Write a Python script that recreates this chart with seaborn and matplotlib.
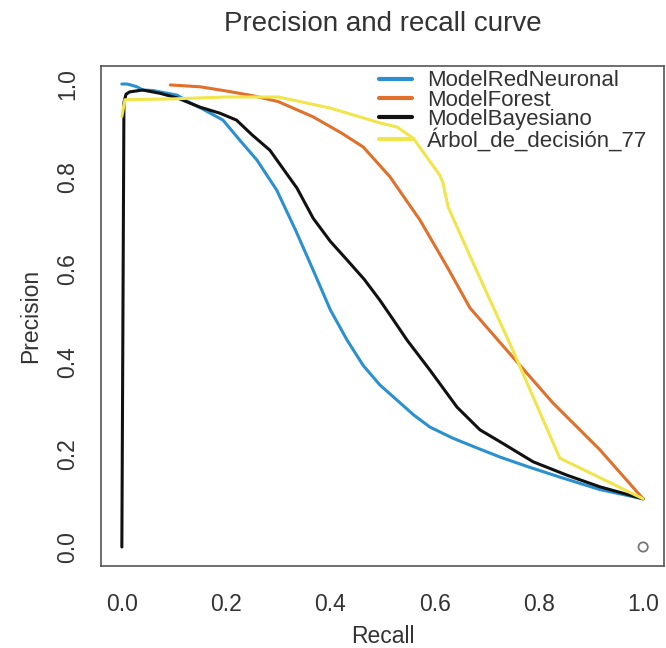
import matplotlib
matplotlib.use("Agg")
import matplotlib.pyplot as plt
import seaborn as sns
import pandas as pd
from matplotlib.lines import Line2D

# ---- data ----
models = ["ModelRedNeuronal", "ModelForest", "ModelBayesiano", "Árbol_de_decisión_77"]

recall_red = [0.0, 0.01, 0.02, 0.029, 0.04, 0.06, 0.073, 0.106, 0.13, 0.155, 0.194, 0.226, 0.259,
              0.297, 0.333, 0.367, 0.40, 0.432, 0.463, 0.495, 0.528, 0.56, 0.591, 0.635, 0.681,
              0.726, 0.78, 0.84, 0.917, 1.0]
prec_red = [1.0, 1.0, 0.997, 0.994, 0.987, 0.986, 0.983, 0.976, 0.96, 0.946, 0.922, 0.879, 0.836,
            0.771, 0.685, 0.598, 0.512, 0.447, 0.392, 0.35, 0.317, 0.285, 0.259, 0.235, 0.214,
            0.194, 0.173, 0.151, 0.124, 0.104]

recall_forest = [0.093, 0.15, 0.2, 0.25, 0.3, 0.367, 0.42, 0.463, 0.514, 0.572, 0.624, 0.668,
                 0.75, 0.827, 0.917, 1.0]
prec_forest = [0.998, 0.994, 0.985, 0.975, 0.962, 0.929, 0.895, 0.864, 0.80, 0.706, 0.605, 0.516,
               0.41, 0.311, 0.21, 0.104]

recall_bayes = [0.0, 0.004, 0.008, 0.015, 0.04, 0.073, 0.106, 0.15, 0.188, 0.22, 0.25, 0.284, 0.303,
                0.336, 0.367, 0.40, 0.432, 0.465, 0.495, 0.52, 0.547, 0.591, 0.643, 0.687, 0.726,
                0.789, 0.854, 0.917, 1.0]
prec_bayes = [0.0, 0.96, 0.978, 0.983, 0.987, 0.98, 0.97, 0.95, 0.937, 0.922, 0.89, 0.857, 0.827,
              0.775, 0.71, 0.66, 0.62, 0.578, 0.533, 0.492, 0.447, 0.382, 0.302, 0.253, 0.227,
              0.184, 0.155, 0.13, 0.104]

recall_tree = [0.0, 0.006, 0.1, 0.2, 0.3, 0.4, 0.495, 0.528, 0.559, 0.585, 0.61, 0.616, 0.626,
               0.674, 0.75, 0.84, 1.0]
prec_tree = [0.93, 0.966, 0.968, 0.972, 0.972, 0.948, 0.916, 0.907, 0.883, 0.842, 0.803, 0.786,
             0.734, 0.613, 0.425, 0.192, 0.104]

extra_point_x = [1.0]
extra_point_y = [0.0]

x_ticks = [0.0, 0.2, 0.4, 0.6, 0.8, 1.0]
y_ticks = [0.0, 0.2, 0.4, 0.6, 0.8, 1.0]
tick_labels = ["0.0", "0.2", "0.4", "0.6", "0.8", "1.0"]

colors = ["#2b90d0", "#e0712c", "#111111", "#f1e54c"]

# ---- build long table ----
frames = []
for name, rx, py in zip(models,
                        [recall_red, recall_forest, recall_bayes, recall_tree],
                        [prec_red, prec_forest, prec_bayes, prec_tree]):
    frames.append(pd.DataFrame({"Recall": rx, "Precision": py, "model": name}))
df = pd.concat(frames, ignore_index=True)

sns.set_style("white")
plt.rcParams["font.family"] = ["Liberation Sans", "DejaVu Sans"]
text_col = "#333333"

fig = plt.figure(figsize=(6.66, 6.48), dpi=100)
ax = fig.add_axes([101 / 666, 1 - 565.5 / 648, 563 / 666, 500 / 648])

sns.lineplot(data=df, x="Recall", y="Precision", hue="model", hue_order=models,
             palette=colors, sort=False, estimator=None, units="model",
             linewidth=2.2, legend=False, ax=ax)

sns.scatterplot(x=extra_point_x, y=extra_point_y, ax=ax, s=45, marker="o",
                facecolor="none", edgecolor="#777777", linewidth=1.3)

ax.set_xlim(-0.04, 1.04)
ax.set_ylim(-0.04, 1.04)
ax.set_xticks(x_ticks)
ax.set_xticklabels(tick_labels)
ax.set_yticks(y_ticks)
ax.set_yticklabels(tick_labels, rotation=90, va="center")

for s in ax.spines.values():
    s.set_color("#555555")
    s.set_linewidth(1.2)

ax.tick_params(axis="both", direction="out", length=7, width=1.1, color="#555555",
               labelsize=16.5, labelcolor=text_col)
ax.tick_params(axis="x", pad=13)
ax.tick_params(axis="y", pad=9)

ax.set_xlabel("Recall", fontsize=16.5, color=text_col, labelpad=6)
ax.set_ylabel("Precision", fontsize=16.5, color=text_col, labelpad=10)
ax.set_title("Precision and recall curve", fontsize=20, color=text_col, pad=25)

handles = [Line2D([0], [0], color=c, linewidth=3.0) for c in colors]
leg = ax.legend(handles, models, loc="upper left", bbox_to_anchor=(0.494, 0.99),
                frameon=False, fontsize=16, handlelength=1.5, handletextpad=0.65,
                labelspacing=-0.08, borderpad=0, borderaxespad=0)
for t in leg.get_texts():
    t.set_color(text_col)

fig.savefig("out.png", dpi=100)
